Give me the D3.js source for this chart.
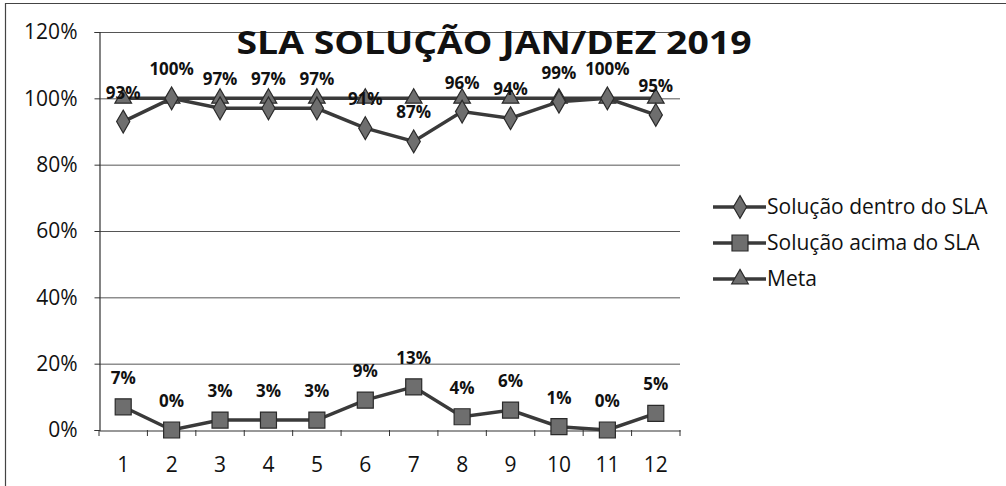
<!DOCTYPE html>
<html><head><meta charset="utf-8">
<script src="https://cdn.jsdelivr.net/npm/d3@7"></script>
<style>
html,body{margin:0;padding:0;background:#fff;}
svg{display:block;font-family:"Open Sans",sans-serif;}
</style></head>
<body>
<svg id="c" width="1006" height="486"></svg>
<script>
const months = ["1","2","3","4","5","6","7","8","9","10","11","12"];
const dentro = [93,100,97,97,97,91,87,96,94,99,100,95];
const acima = [7,0,3,3,3,9,13,4,6,1,0,5];
const meta = [100,100,100,100,100,100,100,100,100,100,100,100];
const yTicks = [0,20,40,60,80,100,120];
const seriesNames = ["Solução dentro do SLA","Solução acima do SLA","Meta"];
const title = "SLA SOLUÇÃO JAN/DEZ 2019";

const svg = d3.select("#c");
const L = 99, R = 680, T = 32, B = 430;
const x = d3.scaleBand().domain(months).range([L, R]);
const y = d3.scaleLinear().domain([0,120]).range([B, T]);
const cx = d => x(d) + x.bandwidth()/2;

// outer border (left and top)
svg.append("path").attr("d","M5.5,486 L5.5,3.5 L1006,3.5").attr("fill","none").attr("stroke","#444").attr("stroke-width",1.2);

// gridlines
svg.append("g").selectAll("line").data(yTicks.filter(t=>t>0)).join("line")
  .attr("x1",L).attr("x2",R).attr("y1",d=>y(d)+0.5).attr("y2",d=>y(d)+0.5)
  .attr("stroke","#555").attr("stroke-width",1);

// y axis
const yAxis = svg.append("g").attr("transform",`translate(${L+0.5},0)`)
  .call(d3.axisLeft(y).tickValues(yTicks).tickFormat(d=>d+"%").tickSize(5).tickPadding(17));
yAxis.select(".domain").attr("stroke","#333").attr("stroke-width",1.2);
yAxis.selectAll(".tick line").attr("stroke","#333");
yAxis.selectAll("text").attr("font-size",21).attr("font-family","Open Sans").attr("fill","#111");

// x axis
const xAxis = svg.append("g").attr("transform",`translate(0,${B+0.5})`)
  .call(d3.axisBottom(x).tickSize(0).tickPadding(27));
xAxis.select(".domain").attr("stroke","#333").attr("stroke-width",1.2);
xAxis.selectAll("text").attr("font-size",21).attr("font-family","Open Sans").attr("fill","#111");
// boundary ticks
svg.append("g").selectAll("line").data(d3.range(months.length+1)).join("line")
  .attr("x1",i=>L+i*x.step()).attr("x2",i=>L+i*x.step())
  .attr("y1",B).attr("y2",B+6).attr("stroke","#333");

const lineCol = "#3a3a3a", fillCol = "#6e6e6e";
const line = d3.line().x((d,i)=>cx(months[i])).y(d=>y(d));

function drawSeries(vals, sym, size){
  svg.append("path").datum(vals).attr("d",line).attr("fill","none")
    .attr("stroke",lineCol).attr("stroke-width",3.5);
  svg.append("g").selectAll("path").data(vals).join("path")
    .attr("transform",(d,i)=>`translate(${cx(months[i])},${y(d)})`)
    .attr("d",d3.symbol().type(sym).size(size))
    .attr("fill",fillCol).attr("stroke","#2a2a2a").attr("stroke-width",1.2);
}
drawSeries(meta, d3.symbolTriangle, 120);
drawSeries(dentro, d3.symbolDiamond, 150);
drawSeries(acima, d3.symbolSquare, 256);

// data labels
function labels(vals){
  svg.append("g").selectAll("text").data(vals).join("text")
    .attr("x",(d,i)=>cx(months[i])).attr("y",d=>y(d)-23)
    .attr("text-anchor","middle").attr("font-size",17).attr("font-weight","bold")
    .attr("fill","#111").text(d=>d+"%");
}
labels(dentro);
labels(acima);

// title
svg.append("text").attr("x",494).attr("y",54).attr("text-anchor","middle")
  .attr("font-size",32).attr("font-weight","bold").attr("fill","#111")
  .attr("textLength",515).attr("lengthAdjust","spacingAndGlyphs").text(title);

// legend
const syms = [[d3.symbolDiamond,150],[d3.symbolSquare,256],[d3.symbolTriangle,120]];
const lg = svg.append("g");
seriesNames.forEach((n,i)=>{
  const yy = 207 + i*36;
  lg.append("line").attr("x1",713).attr("x2",766).attr("y1",yy).attr("y2",yy)
    .attr("stroke",lineCol).attr("stroke-width",3.5);
  lg.append("path").attr("transform",`translate(740,${yy})`)
    .attr("d",d3.symbol().type(syms[i][0]).size(syms[i][1]))
    .attr("fill",fillCol).attr("stroke","#2a2a2a").attr("stroke-width",1.2);
  lg.append("text").attr("x",767).attr("y",yy+7).attr("font-size",21).attr("fill","#111").text(n);
});
</script>
</body></html>
